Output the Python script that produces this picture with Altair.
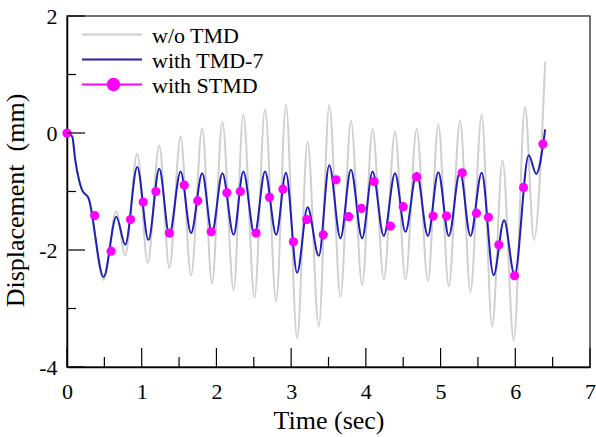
import altair as alt
import pandas as pd

series_names = ["w/o TMD", "with TMD-7", "with STMD"]

# w/o TMD (gray)
t_wo = [0.00, 0.07, 0.11, 0.16, 0.20, 0.29, 0.49, 0.66, 0.78, 0.94, 1.08, 1.235, 1.37, 1.52,
        1.66, 1.81, 1.94, 2.08, 2.23, 2.36, 2.51, 2.65, 2.80, 2.93, 3.08, 3.22, 3.37, 3.51,
        3.66, 3.80, 3.95, 4.09, 4.24, 4.39, 4.53, 4.68, 4.83, 4.97, 5.11, 5.26, 5.40, 5.55,
        5.69, 5.83, 5.98, 6.13, 6.25, 6.40]
d_wo = [0.00, -0.06, -0.46, -0.80, -0.97, -1.12, -2.51, -1.34, -2.09, -0.35, -2.22, -0.22, -2.31, -0.06,
        -2.44, 0.08, -2.57, 0.19, -2.69, 0.31, -2.81, 0.40, -2.88, 0.48, -3.51, -0.15, -3.31, 0.48,
        -2.80, 0.21, -2.60, 0.07, -2.50, 0.02, -2.50, 0.07, -2.53, 0.14, -2.62, 0.22, -2.71, 0.31,
        -3.31, -0.47, -3.55, 0.45, -1.83, 1.22]

# with TMD-7 (blue)
t_tmd = [0.00, 0.07, 0.11, 0.16, 0.20, 0.29, 0.49, 0.66, 0.78, 0.94, 1.09, 1.235, 1.37, 1.52,
         1.66, 1.81, 1.94, 2.08, 2.23, 2.36, 2.51, 2.65, 2.80, 2.93, 3.08, 3.22, 3.37, 3.51,
         3.66, 3.80, 3.95, 4.09, 4.24, 4.39, 4.53, 4.68, 4.83, 4.97, 5.11, 5.26, 5.40, 5.55,
         5.71, 5.85, 5.99, 6.18, 6.28, 6.40]
d_tmd = [0.00, -0.06, -0.46, -0.80, -0.97, -1.12, -2.46, -1.43, -1.91, -0.58, -1.83, -0.61, -1.74, -0.66,
         -1.71, -0.69, -1.71, -0.69, -1.74, -0.66, -1.74, -0.66, -1.74, -0.68, -2.39, -1.27, -2.10, -0.55,
         -1.80, -0.63, -1.80, -0.66, -1.76, -0.69, -1.69, -0.68, -1.76, -0.67, -1.76, -0.66, -1.76, -0.68,
         -2.43, -1.49, -2.43, -0.38, -0.70, 0.06]

# with STMD (magenta markers)
t_stmd = [0.00, 0.37, 0.59, 0.85, 1.02, 1.19, 1.37, 1.57, 1.75, 1.93, 2.14, 2.32, 2.53, 2.71,
          2.89, 3.03, 3.21, 3.43, 3.60, 3.77, 3.94, 4.11, 4.33, 4.50, 4.68, 4.90, 5.08, 5.29,
          5.48, 5.64, 5.78, 5.99, 6.11, 6.37]
d_stmd = [0.00, -1.41, -2.02, -1.48, -1.18, -1.00, -1.71, -0.89, -1.16, -1.69, -1.02, -1.00, -1.71, -1.10,
          -0.96, -1.86, -1.48, -1.74, -0.80, -1.43, -1.29, -0.83, -1.59, -1.26, -0.75, -1.42, -1.42, -0.68,
          -1.37, -1.44, -1.91, -2.44, -0.93, -0.19]

x_major = [0, 1, 2, 3, 4, 5, 6, 7]
x_minor = [0.5, 1.5, 2.5, 3.5, 4.5, 5.5, 6.5]
y_major = [-4, -2, 0, 2]
y_minor = [-3, -1, 1]

W, H = 523, 351
FONT = "Liberation Serif"
GRAY, BLUE, MAGENTA = "#cfcfcf", "#2020b4", "#ff00ff"

xs = alt.Scale(domain=[0, 7], nice=False, zero=False)
ys = alt.Scale(domain=[-4, 2], nice=False, zero=False)

df_wo = pd.DataFrame({"t": t_wo, "d": d_wo})
df_tmd = pd.DataFrame({"t": t_tmd, "d": d_tmd})
df_stmd = pd.DataFrame({"t": t_stmd, "d": d_stmd})

x_axis = alt.Axis(values=x_major, title="Time (sec)", ticks=False, grid=False,
                  labelFont=FONT, labelFontSize=22, labelColor="black", labelPadding=14,
                  labelExpr="'' + datum.value",
                  titleFont=FONT, titleFontSize=26, titleFontWeight="normal", titleColor="black",
                  titlePadding=5, domainColor="black", domainWidth=1.5, labelFlush=False)
y_axis = alt.Axis(values=y_major, title="Displacement\u00a0 (mm)", ticks=False, grid=False,
                  labelFont=FONT, labelFontSize=22, labelColor="black", labelPadding=10,
                  labelExpr="'' + datum.value",
                  titleFont=FONT, titleFontSize=26, titleFontWeight="normal", titleColor="black",
                  titlePadding=10, titleY=184, domainColor="black", domainWidth=1.5, labelFlush=False)

gray = alt.Chart(df_wo).mark_line(color=GRAY, strokeWidth=2, interpolate="monotone").encode(
    x=alt.X("t:Q", scale=xs, axis=x_axis),
    y=alt.Y("d:Q", scale=ys, axis=y_axis),
)
blue = alt.Chart(df_tmd).mark_line(color=BLUE, strokeWidth=2, interpolate="monotone").encode(
    x=alt.X("t:Q", scale=xs), y=alt.Y("d:Q", scale=ys))
pts = alt.Chart(df_stmd).mark_point(filled=True, color=MAGENTA, opacity=1, size=85).encode(
    x=alt.X("t:Q", scale=xs), y=alt.Y("d:Q", scale=ys))

# inward ticks (same field names so the shared axes are untouched)
xmaj = alt.Chart(pd.DataFrame({"t": x_major})).mark_rule(color="black", strokeWidth=1.2).encode(
    x=alt.X("t:Q", scale=xs), y=alt.value(H), y2=alt.value(H - 19))
xmin = alt.Chart(pd.DataFrame({"t": x_minor})).mark_rule(color="black", strokeWidth=1.2).encode(
    x=alt.X("t:Q", scale=xs), y=alt.value(H), y2=alt.value(H - 10))
ymaj = alt.Chart(pd.DataFrame({"d": y_major})).mark_rule(color="black", strokeWidth=1.2).encode(
    y=alt.Y("d:Q", scale=ys), x=alt.value(0), x2=alt.value(18))
ymin = alt.Chart(pd.DataFrame({"d": y_minor})).mark_rule(color="black", strokeWidth=1.2).encode(
    y=alt.Y("d:Q", scale=ys), x=alt.value(0), x2=alt.value(9))

# legend
leg_layers = []
leg_colors = [GRAY, BLUE, MAGENTA]
for i, (name, col) in enumerate(zip(series_names, leg_colors)):
    yy = 18.5 + 25 * i
    ld = pd.DataFrame({"label": [name]})
    leg_layers.append(alt.Chart(ld).mark_rule(color=col, strokeWidth=2).encode(
        x=alt.value(15), x2=alt.value(75), y=alt.value(yy)))
    if i == 2:
        leg_layers.append(alt.Chart(ld).mark_point(filled=True, color=col, opacity=1, size=180).encode(
            x=alt.value(46.5), y=alt.value(yy)))
    leg_layers.append(alt.Chart(ld).mark_text(align="left", baseline="middle", font=FONT,
                                              fontSize=22, color="black").encode(
        x=alt.value(85), y=alt.value(yy + 1), text="label:N"))

chart = alt.layer(gray, blue, pts, xmaj, xmin, ymaj, ymin, *leg_layers).properties(
    width=W, height=H,
    padding={"left": 67, "top": 16, "right": 6, "bottom": 70},
    autosize=alt.AutoSizeParams(type="none"),
    background="white",
).configure_view(stroke="#444444", strokeWidth=1.5)

chart.save("out.html", embed_options={"renderer": "svg", "actions": False})
